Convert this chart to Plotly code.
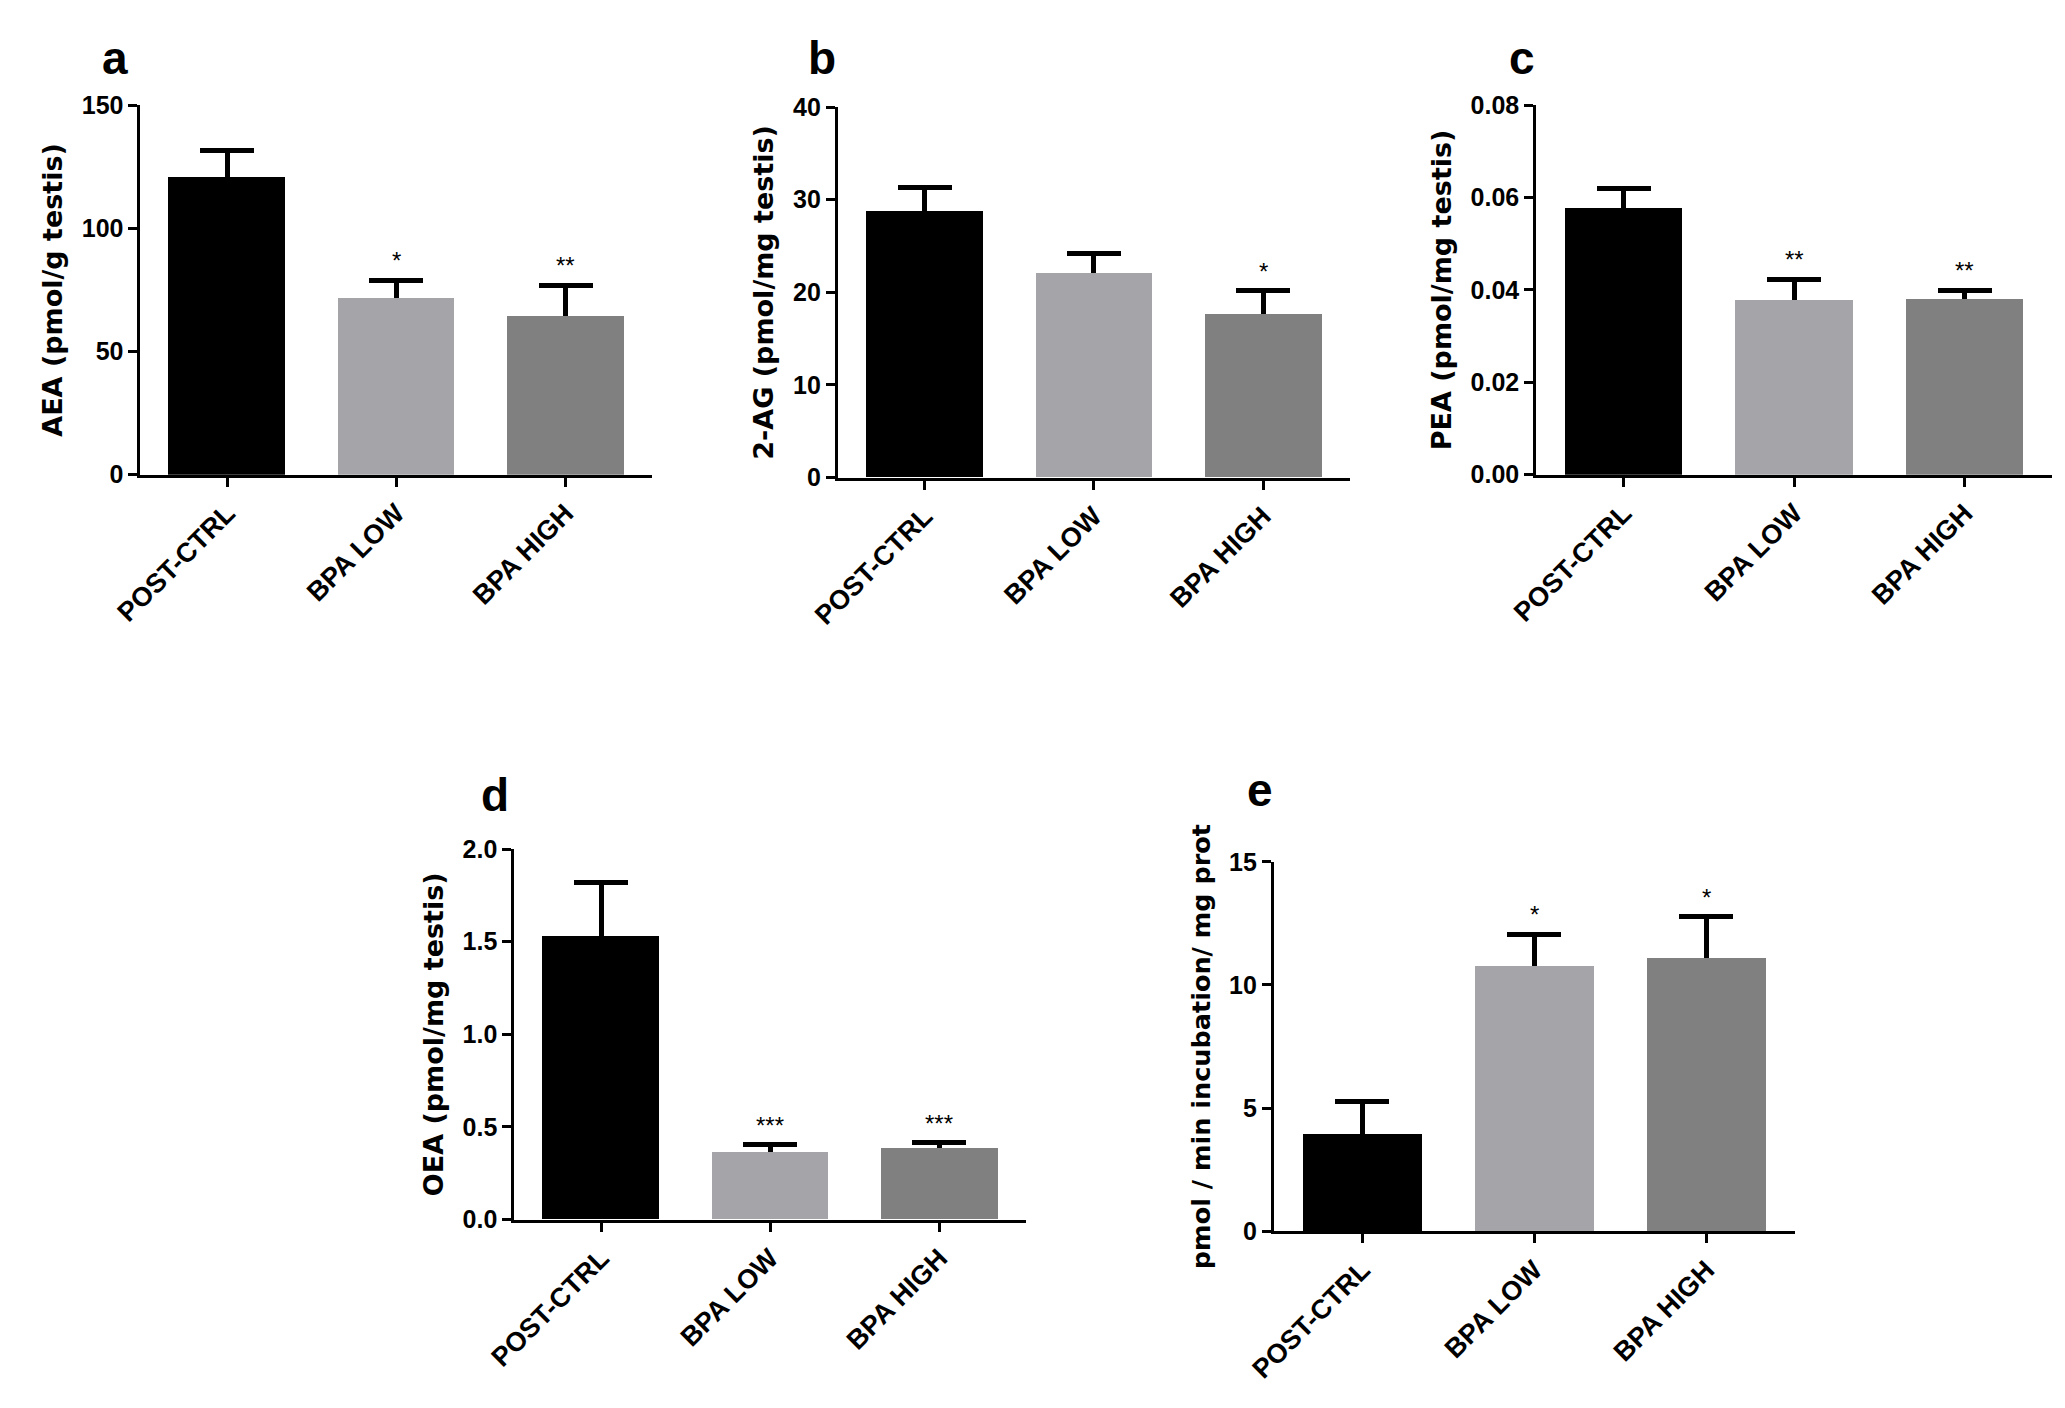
import plotly.graph_objects as go

groups = ["POST-CTRL", "BPA LOW", "BPA HIGH"]
bar_colors = ["#000000", "#a5a4a9", "#808080"]

aea_mean = [120.7, 71.6, 64.5]
aea_sem = [10.8, 7.3, 12.4]
aea_stars = ["", "*", "**"]

ag_mean = [28.8, 22.1, 17.7]
ag_sem = [2.5, 2.1, 2.5]
ag_stars = ["", "", "*"]

pea_mean = [0.0577, 0.0377, 0.0381]
pea_sem = [0.0043, 0.0046, 0.0018]
pea_stars = ["", "**", "**"]

oea_mean = [1.53, 0.365, 0.385]
oea_sem = [0.29, 0.038, 0.029]
oea_stars = ["", "***", "***"]

act_mean = [3.97, 10.78, 11.09]
act_sem = [1.31, 1.28, 1.68]
act_stars = ["", "*", "*"]

W, H = 2065, 1408
FONT = "Liberation Sans, Arial, sans-serif"
TITLE_FONT = "DejaVu Sans, Liberation Sans, sans-serif"

# panel: letter, y title, title size, mean, sem, stars, ticks, tick format,
#        pixel box (x0, x1, ytop, ybottom), letter pos
panels = [
    ("a", "AEA (pmol/g testis)", 27, aea_mean, aea_sem, aea_stars, [0, 50, 100, 150], "d",
     (114, 633, 93, 470), (88, 45)),
    ("b", "2-AG (pmol/mg testis)", 27, ag_mean, ag_sem, ag_stars, [0, 10, 20, 30, 40], "d",
     (821, 1340, 95, 473), (805, 45)),
    ("c", "PEA (pmol/mg testis)", 27, pea_mean, pea_sem, pea_stars, [0, 0.02, 0.04, 0.06, 0.08], ".2f",
     (1529, 2052, 93, 470), (1515, 45)),
    ("d", "OEA (pmol/mg testis)", 27, oea_mean, oea_sem, oea_stars, [0, 0.5, 1.0, 1.5, 2.0], ".1f",
     (493, 1012, 852, 1230), (473, 797)),
    ("e", "pmol / min incubation/ mg prot", 25.5, act_mean, act_sem, act_stars, [0, 5, 10, 15], "d",
     (1263, 1791, 865, 1242), (1249, 792)),
]

fig = go.Figure()
annotations = []

for i, (letter, ytitle, tsize, mean, sem, stars, ticks, fmt, box, lpos) in enumerate(panels):
    n = "" if i == 0 else str(i + 1)
    x0, x1, yt, yb = box
    # error bars first (on see-through bars), then the real bars on top hide the lower half
    fig.add_trace(go.Bar(
        x=groups, y=mean, width=0.69,
        marker=dict(color="rgba(0,0,0,0)", line=dict(width=0)),
        error_y=dict(type="data", array=sem, symmetric=True,
                     color="black", thickness=5, width=27),
        xaxis="x" + n, yaxis="y" + n, showlegend=False, hoverinfo="skip",
    ))
    fig.add_trace(go.Bar(
        x=groups, y=mean, width=0.69,
        marker=dict(color=bar_colors, line=dict(width=0)),
        xaxis="x" + n, yaxis="y" + n, showlegend=False,
    ))
    fig.layout["xaxis" + n] = dict(
        domain=[x0 / W, x1 / W], anchor="y" + n,
        range=[-0.513, 2.513], showline=True, linecolor="black", linewidth=3,
        ticks="outside", ticklen=9, tickwidth=3, tickcolor="black", tickangle=-45,
        tickfont=dict(family=FONT, size=27, color="black", weight="bold"),
        showgrid=False, zeroline=False, fixedrange=True,
    )
    fig.layout["yaxis" + n] = dict(
        domain=[1 - yb / H, 1 - yt / H], anchor="x" + n,
        range=[0, ticks[-1]], tickvals=ticks, tickformat=fmt,
        showline=True, linecolor="black", linewidth=3,
        ticks="outside", ticklen=9, tickwidth=3, tickcolor="black",
        tickfont=dict(family=FONT, size=25, color="black", weight="bold"),
        title=dict(text=ytitle, standoff=12,
                   font=dict(family=TITLE_FONT, size=tsize, color="black", weight="bold")),
        showgrid=False, zeroline=False, fixedrange=True,
    )
    for g, m, s, st in zip(groups, mean, sem, stars):
        if st:
            annotations.append(dict(
                x=g, y=m + s, xref="x" + n, yref="y" + n, text=st, showarrow=False,
                yanchor="bottom", yshift=4, font=dict(family=FONT, size=24, color="black"),
            ))
    annotations.append(dict(
        x=lpos[0] / W, y=1 - lpos[1] / H, xref="paper", yref="paper", text=letter,
        showarrow=False, xanchor="center", yanchor="middle",
        font=dict(family=FONT, size=46, color="black", weight="bold"),
    ))

fig.update_layout(
    width=W, height=H, margin=dict(l=0, r=0, t=0, b=0),
    paper_bgcolor="white", plot_bgcolor="white",
    annotations=annotations, barmode="overlay", bargap=0,
)

# drop the default body margin so the figure sits at the page corner
fig.write_html("out.html", config={"displayModeBar": False},
               post_script="document.body.style.margin='0';")
